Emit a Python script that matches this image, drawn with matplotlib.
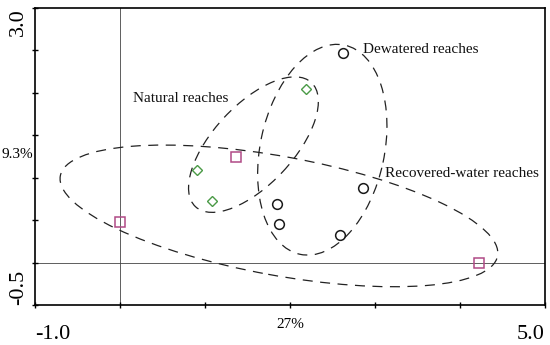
import matplotlib
matplotlib.use("Agg")
import matplotlib.pyplot as plt
from matplotlib.patches import Ellipse
from matplotlib.transforms import blended_transform_factory

plt.rcParams['font.family'] = ['Liberation Serif', 'DejaVu Serif']

# Site scores (axis 1, axis 2)
dewatered_x = [2.62, 2.86, 1.85, 1.87, 2.59]
dewatered_y = [2.47, 0.88, 0.69, 0.46, 0.32]
natural_x = [2.19, 0.91, 1.08]
natural_y = [2.04, 1.09, 0.72]
recovered_x = [1.36, 0.00, 4.22]
recovered_y = [1.25, 0.48, 0.00]

# Group ellipses: centre x, centre y, width, height, angle (deg)
dewatered_ell = [2.38, 1.33, 2.52, 1.46, 78]
natural_ell = [1.57, 1.39, 2.00, 0.94, 47]
recovered_ell = [1.87, 0.55, 5.23, 1.40, -10.4]

group_labels = ["Dewatered reaches", "Natural reaches", "Recovered-water reaches"]
label_x = [2.86, 0.15, 3.12]
label_y = [2.51, 1.93, 1.05]

x_ticks = [-1, 0, 1, 2, 3, 4, 5]
y_ticks = [-0.5, 0, 0.5, 1.0, 1.5, 2.0, 2.5, 3.0]
axis1_label = "27%"
axis2_label = "9.3%"

fig = plt.figure(figsize=(5.5, 3.45), dpi=100)
ax = fig.add_axes([35/550, 40/345, 510/550, 297/345])
ax.set_xlim(-1, 5)
ax.set_ylim(-0.5, 3.0)

ax.axvline(0, color='#444444', lw=0.6, zorder=1)
ax.axhline(0, color='#444444', lw=0.6, zorder=1)

for e in (dewatered_ell, natural_ell, recovered_ell):
    ax.add_patch(Ellipse((e[0], e[1]), e[2], e[3], angle=e[4], fill=False,
                         ec='#222222', lw=0.9, ls=(0, (8, 6)), zorder=2))

ax.plot(dewatered_x, dewatered_y, ls='none', marker='o', ms=7, mfc='none',
        mec='#1a1a1a', mew=1.1, zorder=3)
ax.plot(natural_x, natural_y, ls='none', marker='D', ms=5.5, mfc='none',
        mec='#4a9a46', mew=1.0, zorder=3)
ax.plot(recovered_x, recovered_y, ls='none', marker='s', ms=7.5, mfc='none',
        mec='#b04a86', mew=1.1, zorder=3)

for t, x, y in zip(group_labels, label_x, label_y):
    ax.text(x, y, t, fontsize=11, ha='left', va='center', color='#111111', zorder=4)

ax.set_xticks(x_ticks)
ax.set_yticks(y_ticks)
ax.set_xticklabels([])
ax.set_yticklabels([])
ax.tick_params(direction='inout', length=5, width=1.0, color='black')
for s in ax.spines.values():
    s.set_linewidth(1.2)
    s.set_color('black')

# endpoint tick labels
xb = blended_transform_factory(ax.transData, ax.transAxes)
ax.text(-1, -0.098, "-1.0", transform=xb, fontsize=16, ha='left', va='center')
ax.text(5, -0.098, "5.0", transform=xb, fontsize=16, ha='right', va='center')
ax.text(2.0, -0.067, axis1_label, transform=xb, fontsize=11, ha='center', va='center')
bx = blended_transform_factory(ax.transAxes, ax.transData)
ax.text(-0.033, 3.0, "3.0", transform=bx, fontsize=16, rotation=90, ha='center', va='top')
ax.text(-0.033, -0.5, "-0.5", transform=bx, fontsize=16, rotation=90, ha='center', va='bottom')
ax.text(-0.004, 1.27, axis2_label, transform=bx, fontsize=11, ha='right', va='center')

fig.savefig("out.png", dpi=100)
